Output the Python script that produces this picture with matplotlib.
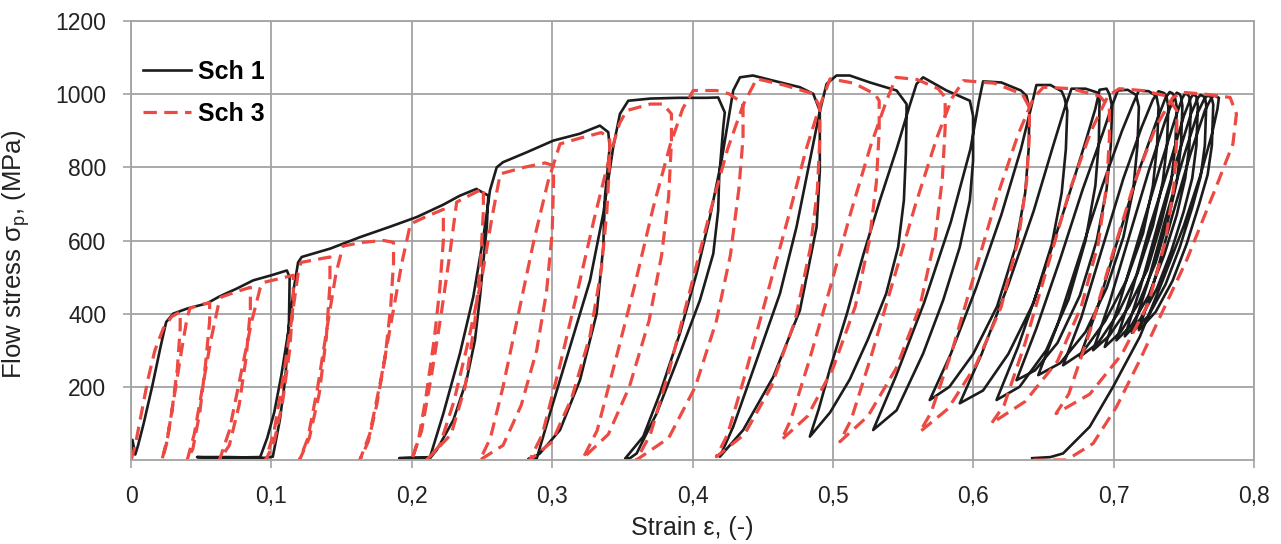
import numpy as np
import matplotlib
matplotlib.use('Agg')
import matplotlib.pyplot as plt
from matplotlib.ticker import FuncFormatter

plt.rcParams['font.family'] = ['Liberation Sans', 'DejaVu Sans']
plt.rcParams['mathtext.fontset'] = 'custom'
plt.rcParams['mathtext.rm'] = 'Liberation Sans'

# Sch 1: (strain, flow stress MPa)
sch1_points = [
    # pass 1
    (0.000, 0), (0.001, 55), (0.003, 15), (0.005, 40), (0.009, 100), (0.015, 200),
    (0.021, 309), (0.025, 377), (0.030, 400), (0.040, 414), (0.054, 428), (0.063, 447),
    (0.075, 468), (0.087, 491), (0.100, 505), (0.111, 518), (0.113, 500),
    (0.1125, 380), (0.110, 227), (0.106, 109), (0.101, 9), (0.095, 6), (0.070, 8), (0.047, 8),
    # pass 2
    (0.060, 6), (0.092, 8), (0.097, 60), (0.102, 130), (0.107, 230), (0.112, 350),
    (0.116, 470), (0.119, 540), (0.1216, 555), (0.142, 578), (0.163, 609), (0.184, 637),
    (0.2035, 664), (0.2225, 698), (0.234, 722), (0.246, 741), (0.252, 728), (0.2545, 723),
    (0.2535, 640), (0.252, 582), (0.2486, 446), (0.245, 327), (0.239, 218), (0.2296, 109),
    (0.2177, 27), (0.213, 5), (0.200, 6), (0.191, 5),
    # pass 3
    (0.205, 6), (0.213, 8), (0.2225, 127), (0.2343, 291), (0.2438, 446), (0.251, 609),
    (0.2557, 737), (0.2605, 800), (0.265, 814), (0.2818, 841), (0.3008, 873), (0.3198, 892),
    (0.334, 914), (0.340, 896),
    (0.341, 855), (0.3376, 719), (0.3364, 582), (0.3317, 400), (0.3198, 218), (0.3056, 82),
    (0.2913, 18), (0.2865, 5), (0.283, 3), (0.289, 4),
    # pass 4
    (0.2984, 127), (0.3127, 309), (0.327, 491), (0.3364, 673), (0.3435, 855), (0.3483, 946),
    (0.3542, 982), (0.370, 988), (0.390, 990), (0.410, 990), (0.4183, 991), (0.423, 950),
    (0.4219, 910), (0.419, 773), (0.4183, 682), (0.4148, 564), (0.4053, 437), (0.391, 291),
    (0.3744, 127), (0.3602, 18), (0.3554, 5), (0.352, 4),
    # pass 5
    (0.3649, 64), (0.3768, 182), (0.391, 346), (0.4029, 510), (0.4124, 664), (0.4207, 819),
    (0.4254, 928), (0.429, 1010), (0.4338, 1046), (0.443, 1051), (0.4575, 1037),
    (0.4765, 1019), (0.486, 1001), (0.4907, 955),
    (0.4907, 791), (0.4884, 637), (0.4765, 409), (0.4575, 227), (0.4361, 82), (0.4195, 9),
    # pass 6
    (0.429, 91), (0.4457, 273), (0.4623, 455), (0.4741, 637), (0.4836, 819), (0.4905, 950),
    (0.4955, 1028), (0.5026, 1051), (0.512, 1051), (0.5264, 1032), (0.5454, 1010), (0.5525, 973),
    (0.5525, 946), (0.552, 837), (0.5506, 710), (0.5465, 582), (0.538, 455), (0.525, 330),
    (0.512, 220), (0.498, 130), (0.4836, 64),
    # pass 7
    (0.490, 140), (0.498, 250), (0.510, 400), (0.5216, 560), (0.5335, 710), (0.5454, 850),
    (0.5548, 970), (0.5596, 1028), (0.5643, 1046), (0.581, 1010), (0.5976, 982), (0.5999, 940),
    (0.5999, 819), (0.5976, 710), (0.5904, 582), (0.5786, 437), (0.5643, 291), (0.5454, 136),
    (0.5287, 82),
    # pass 8
    (0.545, 230), (0.565, 430), (0.584, 650), (0.598, 850), (0.604, 980), (0.607, 1035),
    (0.620, 1032), (0.634, 1010), (0.638, 995), (0.640, 960),
    (0.6395, 850), (0.637, 730), (0.630, 580), (0.617, 420), (0.600, 290), (0.583, 200), (0.569, 164),
    # pass 9
    (0.584, 290), (0.602, 470), (0.620, 670), (0.634, 850), (0.641, 960), (0.645, 1025),
    (0.655, 1025), (0.663, 1008), (0.665, 990), (0.667, 955),
    (0.666, 850), (0.663, 730), (0.656, 590), (0.643, 430), (0.625, 290), (0.607, 190), (0.5904, 155),
    # pass 10
    (0.606, 290), (0.625, 480), (0.643, 680), (0.657, 860), (0.665, 960), (0.670, 1015),
    (0.680, 1015), (0.688, 1005), (0.690, 985),
    (0.6895, 870), (0.687, 750), (0.680, 600), (0.668, 440), (0.652, 300), (0.633, 200), (0.6166, 164),
    # pass 11
    (0.632, 310), (0.650, 510), (0.667, 710), (0.680, 870), (0.687, 960), (0.690, 1012),
    (0.695, 1015), (0.697, 1000), (0.699, 965),
    (0.698, 860), (0.695, 740), (0.688, 600), (0.676, 450), (0.660, 320), (0.644, 245), (0.6308, 218),
    # pass 12
    (0.645, 360), (0.662, 550), (0.678, 740), (0.692, 890), (0.699, 970), (0.703, 1010),
    (0.710, 1012), (0.716, 998), (0.718, 965),
    (0.717, 860), (0.714, 740), (0.707, 610), (0.695, 470), (0.680, 350), (0.662, 265), (0.6463, 232),
    # pass 13
    (0.660, 370), (0.676, 560), (0.692, 750), (0.706, 900), (0.714, 975), (0.718, 1010),
    (0.725, 1008), (0.7305, 995), (0.732, 965),
    (0.731, 860), (0.728, 750), (0.721, 620), (0.709, 490), (0.694, 380), (0.678, 295), (0.664, 259),
    # pass 14
    (0.677, 390), (0.692, 580), (0.707, 770), (0.720, 910), (0.728, 985), (0.732, 1008),
    (0.736, 1003), (0.7377, 993), (0.739, 965),
    (0.738, 860), (0.735, 760), (0.728, 640), (0.717, 510), (0.703, 400), (0.689, 320), (0.676, 282),
    # pass 15
    (0.688, 410), (0.702, 590), (0.717, 780), (0.730, 920), (0.737, 990), (0.740, 1006),
    (0.742, 1002), (0.7436, 993), (0.745, 965),
    (0.744, 860), (0.741, 760), (0.734, 650), (0.724, 520), (0.711, 420), (0.697, 340), (0.6854, 300),
    # pass 16
    (0.697, 430), (0.711, 610), (0.725, 790), (0.737, 930), (0.743, 990), (0.745, 1004),
    (0.747, 1000), (0.748, 993), (0.749, 968),
    (0.748, 860), (0.745, 760), (0.739, 660), (0.730, 540), (0.718, 430), (0.705, 350), (0.6937, 309),
    # pass 17
    (0.705, 440), (0.719, 620), (0.733, 800), (0.744, 935), (0.749, 990), (0.751, 1002),
    (0.753, 998), (0.754, 992), (0.755, 965),
    (0.754, 860), (0.751, 770), (0.745, 670), (0.736, 560), (0.725, 450), (0.713, 370), (0.702, 327),
    # pass 18
    (0.713, 460), (0.726, 640), (0.740, 810), (0.750, 940), (0.755, 990), (0.757, 1000),
    (0.759, 993), (0.760, 968),
    (0.759, 860), (0.756, 770), (0.750, 680), (0.741, 570), (0.731, 470), (0.719, 385), (0.708, 338),
    # pass 19
    (0.719, 470), (0.732, 650), (0.745, 820), (0.755, 945), (0.760, 990), (0.762, 998),
    (0.765, 992), (0.766, 970),
    (0.765, 860), (0.762, 775), (0.756, 690), (0.747, 580), (0.737, 480), (0.725, 395), (0.713, 348),
    # pass 20
    (0.724, 480), (0.737, 660), (0.750, 830), (0.760, 950), (0.765, 990), (0.767, 996),
    (0.7697, 992), (0.771, 972),
    (0.770, 860), (0.767, 780), (0.761, 700), (0.752, 590), (0.742, 490), (0.730, 405), (0.718, 355),
    # pass 21 and final unloading
    (0.729, 490), (0.742, 670), (0.755, 840), (0.765, 955), (0.770, 992), (0.772, 996),
    (0.775, 990), (0.774, 960), (0.770, 890), (0.762, 780), (0.750, 640), (0.735, 491),
    (0.7187, 337), (0.6996, 200), (0.683, 91), (0.664, 18), (0.655, 8), (0.642, 5),
]

# Sch 3: (strain, flow stress MPa)
sch3_points = [
    (0.000, 0), (0.003, 40), (0.007, 120), (0.012, 220), (0.017, 300), (0.023, 360),
    (0.029, 392), (0.035, 405),
    (0.035, 360), (0.033, 250), (0.029, 130), (0.025, 40), (0.022, 0),
    (0.026, 60), (0.031, 180), (0.036, 300), (0.040, 390), (0.042, 415), (0.050, 425), (0.056, 430),
    (0.056, 380), (0.053, 260), (0.049, 130), (0.044, 30), (0.040, 0),
    (0.045, 70), (0.051, 200), (0.057, 330), (0.062, 420), (0.064, 445), (0.075, 460), (0.085, 472),
    (0.085, 410), (0.082, 280), (0.077, 150), (0.070, 40), (0.063, 0),
    (0.070, 80), (0.078, 230), (0.086, 380), (0.092, 470), (0.094, 485), (0.105, 495), (0.1156, 505),
    (0.1156, 440), (0.113, 300), (0.108, 160), (0.102, 50), (0.096, 0),
    (0.102, 80), (0.109, 240), (0.115, 400), (0.119, 510), (0.121, 540), (0.132, 548), (0.1417, 555),
    (0.1417, 480), (0.139, 330), (0.134, 180), (0.127, 60), (0.120, 0),
    (0.126, 60), (0.133, 200), (0.140, 370), (0.146, 510), (0.151, 585), (0.165, 595),
    (0.180, 600), (0.187, 595),
    (0.187, 540), (0.185, 420), (0.181, 280), (0.175, 150), (0.169, 50), (0.163, 0),
    (0.170, 70), (0.178, 220), (0.186, 390), (0.193, 540), (0.199, 645), (0.210, 665), (0.2225, 685),
    (0.2225, 600), (0.220, 470), (0.216, 330), (0.210, 170), (0.205, 60), (0.200, 0),
    (0.207, 80), (0.214, 230), (0.221, 400), (0.227, 560), (0.232, 705), (0.242, 725), (0.251, 742),
    (0.251, 680), (0.249, 540), (0.245, 380), (0.238, 200), (0.228, 70), (0.2106, 0),
    (0.220, 40), (0.230, 160), (0.240, 320), (0.250, 500), (0.257, 660), (0.263, 782),
    (0.280, 800), (0.295, 812), (0.301, 805),
    (0.301, 760), (0.300, 620), (0.296, 460), (0.289, 300), (0.278, 150), (0.265, 40), (0.2486, 0),
    (0.256, 60), (0.265, 200), (0.276, 400), (0.287, 600), (0.297, 760), (0.3056, 864),
    (0.320, 880), (0.335, 895), (0.341, 880),
    (0.341, 820), (0.339, 680), (0.335, 520), (0.327, 340), (0.314, 170), (0.300, 50), (0.284, 0),
    (0.293, 70), (0.305, 250), (0.318, 460), (0.330, 660), (0.341, 830), (0.348, 920),
    (0.353, 955), (0.370, 973), (0.379, 973), (0.385, 946),
    (0.385, 870), (0.383, 720), (0.378, 560), (0.369, 380), (0.355, 200), (0.340, 70), (0.322, 5),
    (0.332, 80), (0.345, 270), (0.359, 480), (0.372, 690), (0.384, 860), (0.393, 960),
    (0.4005, 1010), (0.417, 1010), (0.426, 1001), (0.436, 975),
    (0.436, 880), (0.433, 740), (0.427, 560), (0.417, 380), (0.402, 200), (0.383, 60), (0.360, 0),
    (0.370, 70), (0.383, 240), (0.398, 460), (0.412, 670), (0.425, 850), (0.436, 970),
    (0.4457, 1042), (0.465, 1025), (0.486, 1001), (0.4907, 964),
    (0.4907, 880), (0.489, 740), (0.484, 580), (0.473, 380), (0.456, 200), (0.437, 70), (0.417, 9),
    (0.425, 70), (0.438, 240), (0.453, 450), (0.468, 660), (0.481, 850), (0.490, 960),
    (0.498, 1042), (0.515, 1030), (0.530, 1000), (0.533, 982),
    (0.533, 900), (0.531, 760), (0.526, 600), (0.516, 420), (0.500, 250), (0.482, 120), (0.4634, 55),
    (0.470, 110), (0.483, 270), (0.498, 470), (0.513, 680), (0.527, 860), (0.538, 980),
    (0.545, 1046), (0.560, 1040), (0.575, 1015), (0.580, 991),
    (0.580, 910), (0.578, 770), (0.573, 610), (0.562, 420), (0.545, 250), (0.525, 120), (0.505, 50),
    (0.513, 110), (0.527, 280), (0.543, 490), (0.559, 700), (0.574, 880), (0.585, 990),
    (0.593, 1037), (0.615, 1030), (0.635, 1000), (0.640, 964),
    (0.640, 890), (0.638, 760), (0.632, 600), (0.620, 420), (0.602, 260), (0.582, 140), (0.562, 77),
    (0.570, 130), (0.585, 300), (0.601, 510), (0.617, 720), (0.632, 890), (0.643, 990),
    (0.650, 1019), (0.670, 1015), (0.690, 995), (0.697, 964),
    (0.697, 880), (0.695, 750), (0.689, 590), (0.677, 420), (0.660, 270), (0.637, 160), (0.613, 100),
    (0.622, 150), (0.637, 320), (0.653, 530), (0.669, 740), (0.684, 900), (0.696, 995),
    (0.704, 1015), (0.720, 1010), (0.738, 995), (0.745, 955),
    (0.745, 880), (0.743, 750), (0.737, 600), (0.725, 430), (0.706, 290), (0.683, 180), (0.659, 127),
    (0.668, 180), (0.683, 350), (0.699, 560), (0.715, 760), (0.730, 910), (0.742, 990),
    (0.749, 1005), (0.765, 1000), (0.775, 995), (0.783, 991),
    (0.7875, 946), (0.785, 864), (0.773, 746), (0.752, 546), (0.733, 391), (0.7187, 273),
    (0.702, 145), (0.6854, 45), (0.6665, 0), (0.643, 0),
]

x_ticks = [0, 0.1, 0.2, 0.3, 0.4, 0.5, 0.6, 0.7, 0.8]
y_ticks = [200, 400, 600, 800, 1000, 1200]

x1 = [p[0] for p in sch1_points]
y1 = [p[1] for p in sch1_points]
x3 = [p[0] for p in sch3_points]
y3 = [p[1] for p in sch3_points]

grid_c = '#a3a3a3'
text_c = '#222222'

fig = plt.figure(figsize=(12.81, 5.44), dpi=100)
ax = fig.add_axes([0.1023, 0.1544, 0.8766, 0.807])

ax.plot(x1, y1, color='#1c1c1c', lw=1.9, label='Sch 1', solid_joinstyle='round')
ax.plot(x3, y3, color='#ec4a42', lw=2.3, dashes=(4.2, 2.3), label='Sch 3')

ax.set_xlim(0, 0.8)
ax.set_ylim(0, 1200)
ax.set_xticks(x_ticks)
ax.set_yticks(y_ticks)
ax.xaxis.set_major_formatter(FuncFormatter(lambda v, p: '0' if abs(v) < 1e-9 else f'{v:.1f}'.replace('.', ',')))
ax.yaxis.set_major_formatter(FuncFormatter(lambda v, p: f'{v:.0f}'))
ax.grid(True, color=grid_c, lw=1.3)
ax.set_axisbelow(True)
for s in ax.spines.values():
    s.set_color(grid_c)
    s.set_linewidth(1.3)
ax.tick_params(colors=grid_c, labelcolor=text_c, labelsize=16.5, length=5.8, width=1.2, pad=12)

ax.set_xlabel('Strain ε, (-)', fontsize=18, color=text_c, labelpad=6)
ax.set_ylabel('Flow stress σ$_{\\mathrm{p}}$, (MPa)', fontsize=18.5, color=text_c)
ax.yaxis.set_label_coords(-0.088, 0.468)

leg = ax.legend(loc='upper left', bbox_to_anchor=(0.0107, 0.912), frameon=False,
                prop={'weight': 'bold', 'size': 18}, handlelength=1.9,
                handletextpad=0.28, labelspacing=0.72, borderaxespad=0, borderpad=0)

fig.savefig('out.png', dpi=100)
